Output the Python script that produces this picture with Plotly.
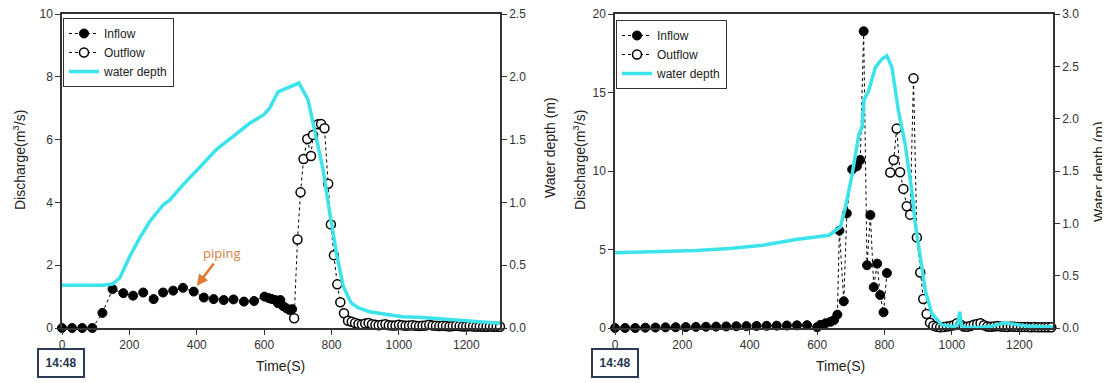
import plotly.graph_objects as go

# ---------------- data ----------------
# Left panel
left_in_t = [0, 30, 60, 90, 120, 150, 182, 211, 241, 272, 300, 330, 359, 391, 421, 450, 480, 509, 540, 570,
             601, 614, 623, 633, 641, 648, 656, 666, 676, 683]
left_in_q = [0, 0, 0, 0, 0.48, 1.24, 1.11, 1.03, 1.13, 0.92, 1.13, 1.19, 1.28, 1.16, 0.97, 0.92, 0.89, 0.91, 0.84, 0.86,
             1.0, 0.95, 0.92, 0.89, 0.79, 0.89, 0.70, 0.63, 0.57, 0.60]

left_out_t = [689, 699, 708, 717, 728, 739, 745, 760, 769, 779, 790, 798, 807, 817, 826, 837, 849,
              860, 870, 880, 890, 900, 910, 920, 930, 940, 950, 960, 970, 980, 990, 1000, 1010, 1020, 1030,
              1040, 1050, 1060, 1070, 1080, 1090, 1100, 1110, 1120, 1130, 1140, 1150, 1160, 1170, 1180, 1190,
              1200, 1210, 1220, 1230, 1240, 1250, 1260, 1270, 1280, 1290, 1300]
left_out_q = [0.31, 2.82, 4.32, 5.38, 6.02, 5.48, 6.15, 6.49, 6.50, 6.36, 4.59, 3.30, 2.32, 1.39, 0.82, 0.47, 0.23,
              0.20, 0.16, 0.13, 0.11, 0.14, 0.16, 0.12, 0.10, 0.09, 0.10, 0.12, 0.09, 0.08, 0.08, 0.10, 0.09, 0.07,
              0.08, 0.09, 0.07, 0.06, 0.07, 0.08, 0.10, 0.08, 0.07, 0.06, 0.07, 0.06, 0.05, 0.06, 0.07, 0.06,
              0.05, 0.05, 0.06, 0.05, 0.04, 0.05, 0.04, 0.04, 0.05, 0.04, 0.04, 0.04]

left_depth_t = [0, 60, 120, 150, 172, 201, 231, 261, 300, 320, 359, 409, 458, 510, 557, 600, 616, 641, 670, 703,
                730, 755, 775, 795, 815, 835, 858, 880, 913, 960, 1011, 1060, 1110, 1160, 1209, 1260, 1300]
left_depth_h = [0.34, 0.34, 0.34, 0.35, 0.40, 0.57, 0.72, 0.85, 0.98, 1.02, 1.14, 1.28, 1.42, 1.53, 1.63, 1.70,
                1.75, 1.88, 1.91, 1.95, 1.82, 1.52, 1.26, 0.91, 0.59, 0.33, 0.20, 0.16, 0.13, 0.11, 0.09, 0.085,
                0.077, 0.065, 0.056, 0.045, 0.037]

# Right panel
right_in_t = [0, 30, 60, 90, 120, 150, 180, 210, 240, 270, 300, 330, 360, 390, 420, 450, 480, 510, 540, 570,
              600, 610, 625, 640, 650, 660, 666, 679, 688, 704, 718, 728, 738, 748, 758, 768, 778, 787, 797, 807]
right_in_q = [0, 0, 0, 0.02, 0.03, 0.04, 0.05, 0.06, 0.07, 0.08, 0.09, 0.10, 0.11, 0.12, 0.13, 0.14, 0.15, 0.16,
              0.17, 0.18, 0.05, 0.2, 0.3, 0.4, 0.5, 0.85, 6.2, 1.7, 7.3, 10.1, 10.3, 10.7, 18.9, 4.0, 7.2, 2.6,
              4.1, 2.1, 1.0, 3.5]

right_out_t = [817, 827, 836, 846, 856, 866, 876, 886, 896, 906, 915, 925, 935,
               945, 955, 965, 975, 985, 995, 1005, 1015, 1025, 1035, 1045, 1055, 1065, 1075, 1085, 1095, 1105,
               1115, 1125, 1135, 1145, 1155, 1165, 1175, 1185, 1195, 1205, 1215, 1225, 1235, 1245, 1255, 1265,
               1275, 1285, 1295]
right_out_q = [9.9, 10.7, 12.7, 9.92, 8.86, 7.75, 7.22, 15.9, 5.77, 3.53, 1.85, 0.89, 0.34,
               0.15, 0.08, 0.05, 0.06, 0.10, 0.12, 0.18, 0.30, 0.22, 0.10, 0.08, 0.12, 0.20, 0.26, 0.30, 0.18,
               0.10, 0.08, 0.10, 0.12, 0.09, 0.08, 0.07, 0.09, 0.08, 0.07, 0.06, 0.07, 0.06, 0.05, 0.06, 0.05,
               0.05, 0.04, 0.05, 0.04]

right_depth_t = [0, 100, 241, 340, 438, 537, 635, 669, 684, 704, 724, 734, 738, 753, 773, 792, 807, 822, 841, 861,
                 881, 891, 906, 921, 940, 970, 1009, 1018, 1023, 1028, 1040, 1078, 1120, 1156, 1175, 1220, 1260, 1300]
right_depth_h = [0.72, 0.725, 0.74, 0.76, 0.79, 0.845, 0.886, 0.965, 1.155, 1.47, 1.85, 1.92, 2.17, 2.27, 2.49,
                 2.57, 2.60, 2.49, 2.08, 1.76, 1.31, 1.00, 0.65, 0.36, 0.14, 0.03, 0.012, 0.05, 0.155, 0.02,
                 0.01, 0.005, 0.02, 0.05, 0.04, 0.02, 0.015, 0.01]

x_ticks = [0, 200, 400, 600, 800, 1000, 1200]

# ---------------- styling ----------------
PAGE_OFF = 8                      # the page body adds an 8 px margin
W, H = 1110 - PAGE_OFF, 383 - PAGE_OFF
FONT = "Liberation Sans, Arial, sans-serif"
AX = "#333333"
CYAN = "#3de3ea"


def fx(p):
    return (p - PAGE_OFF) / W


def fy(p):
    return 1 - (p - PAGE_OFF) / H


ydom = [fy(328), fy(14)]

fig = go.Figure()

dot_line = dict(color="black", width=1, dash="dot")
filled = dict(symbol="circle", size=9, color="black", line=dict(color="black", width=1))
hollow = dict(symbol="circle", size=9, color="white", line=dict(color="black", width=1.5))

# left panel
fig.add_trace(go.Scatter(x=left_in_t, y=left_in_q, name="Inflow", mode="lines+markers", line=dot_line,
                         marker=filled, xaxis="x", yaxis="y", legend="legend", cliponaxis=False))
fig.add_trace(go.Scatter(x=left_out_t, y=left_out_q, name="Outflow", mode="lines+markers", line=dot_line,
                         marker=hollow, xaxis="x", yaxis="y", legend="legend", cliponaxis=False))
fig.add_trace(go.Scatter(x=left_depth_t, y=left_depth_h, name="water depth", mode="lines",
                         line=dict(color=CYAN, width=3.5), xaxis="x", yaxis="y2", legend="legend"))
# right panel
fig.add_trace(go.Scatter(x=right_in_t, y=right_in_q, name="Inflow", mode="lines+markers", line=dot_line,
                         marker=filled, xaxis="x2", yaxis="y3", legend="legend2", cliponaxis=False))
fig.add_trace(go.Scatter(x=right_out_t, y=right_out_q, name="Outflow", mode="lines+markers", line=dot_line,
                         marker=hollow, xaxis="x2", yaxis="y3", legend="legend2", cliponaxis=False))
fig.add_trace(go.Scatter(x=right_depth_t, y=right_depth_h, name="water depth", mode="lines",
                         line=dict(color=CYAN, width=3.5), xaxis="x2", yaxis="y4", legend="legend2"))

axis_common = dict(showline=True, linecolor=AX, linewidth=1.5, ticks="outside", ticklen=5, tickwidth=1.2,
                   tickcolor=AX, showgrid=False, zeroline=False, fixedrange=True, automargin=False,
                   ticklabeloverflow="allow",
                   tickfont=dict(family=FONT, size=12, color=AX))

fig.update_layout(
    template="none",
    width=W, height=H, margin=dict(l=0, r=0, t=0, b=0, pad=0, autoexpand=False),
    paper_bgcolor="white", plot_bgcolor="white",
    font=dict(family=FONT, color=AX),
    showlegend=True,
    xaxis=dict(domain=[fx(62), fx(500)], range=[0, 1300], tickvals=x_ticks, anchor="y", mirror=True,
               **axis_common),
    yaxis=dict(domain=ydom, range=[0, 10], dtick=2, anchor="x", **axis_common),
    yaxis2=dict(domain=ydom, range=[0, 2.5], dtick=0.5, tickformat=".1f", anchor="x", overlaying="y",
                side="right", **axis_common),
    xaxis2=dict(domain=[fx(615), fx(1053)], range=[0, 1300], tickvals=x_ticks, anchor="y3", mirror=True,
                **axis_common),
    yaxis3=dict(domain=ydom, range=[0, 20], dtick=5, anchor="x2", **axis_common),
    yaxis4=dict(domain=ydom, range=[0, 3.0], dtick=0.5, tickformat=".1f", anchor="x2", overlaying="y3",
                side="right", **axis_common),
    legend=dict(x=fx(63), y=fy(18), xanchor="left", yanchor="top", bgcolor="white", bordercolor=AX,
                borderwidth=1, font=dict(family=FONT, size=12, color="#222"), tracegroupgap=0,
                traceorder="normal"),
    legend2=dict(x=fx(616), y=fy(20), xanchor="left", yanchor="top", bgcolor="white", bordercolor=AX,
                 borderwidth=1, font=dict(family=FONT, size=12, color="#222"), tracegroupgap=0,
                 traceorder="normal"),
)

title_font = dict(family=FONT, size=14, color="#222")
ann = []
for xc, txt, yc in [(19, "Discharge(m<sup>3</sup>/s)", 160), (579, "Discharge(m<sup>3</sup>/s)", 160),
                    (550, "Water depth (m)", 148), (1099, "Water depth (m)", 172)]:
    ann.append(dict(x=fx(xc), y=fy(yc), xref="paper", yref="paper", text=txt, textangle=-90, showarrow=False,
                    font=title_font, xanchor="center", yanchor="middle"))
for xc in (280, 840):
    ann.append(dict(x=fx(xc), y=fy(366), xref="paper", yref="paper", text="Time(S)", showarrow=False,
                    font=title_font, xanchor="center", yanchor="middle"))
for xc in (61, 615):
    ann.append(dict(x=fx(xc), y=fy(363), xref="paper", yref="paper", text="<b>14:48</b>", showarrow=False,
                    font=dict(family=FONT, size=12, color="#26354f"), bordercolor="#2b3a55", borderwidth=2,
                    borderpad=1, width=42, height=24, bgcolor="white", xanchor="center", yanchor="middle"))
# piping annotation
ann.append(dict(x=400, y=1.34, xref="x", yref="y", text="piping", showarrow=True, ax=25, ay=-33,
                arrowcolor="#e07a30", arrowwidth=2.5, arrowhead=2, arrowsize=0.9,
                font=dict(family="Open Sans, sans-serif", size=13, color="#d4803f")))
fig.update_layout(annotations=ann)

fig.write_html("out.html")
